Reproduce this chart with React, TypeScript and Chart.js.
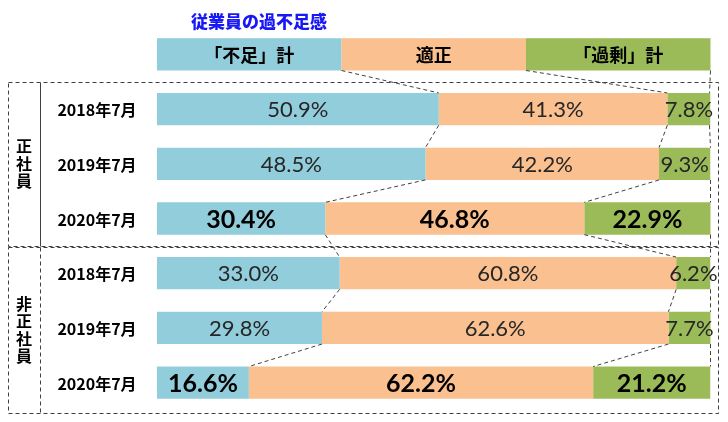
import React, { useEffect, useRef } from "react";
import { Chart, registerables } from "chart.js";

Chart.register(...registerables);

const titleText = "従業員の過不足感";
const legendLabels = ["「不足」計", "適正", "「過剰」計"];
const groupLabels = ["正社員", "非正社員"];
const rowLabels = ["2018年7月", "2019年7月", "2020年7月", "2018年7月", "2019年7月", "2020年7月"];
const shortage = [50.9, 48.5, 30.4, 33.0, 29.8, 16.6];
const adequate = [41.3, 42.2, 46.8, 60.8, 62.6, 62.2];
const surplus = [7.8, 9.3, 22.9, 6.2, 7.7, 21.2];
const boldRows = [false, false, true, false, false, true];
const colors = ["#92CDDC", "#FAC090", "#9BBB59"];

const BAR_PCT = 0.59;
const LINE = "#404040";
const CJK = '"Noto Sans CJK JP", "Noto Sans", sans-serif';
const NUM = 'Lato, "Open Sans", sans-serif';

const overlayPlugin = {
  id: "overlay",
  afterDraw(chart: any) {
    const ctx = chart.ctx as CanvasRenderingContext2D;
    const xs = chart.scales.x;
    const ys = chart.scales.y;
    const step = ys.getPixelForValue(1) - ys.getPixelForValue(0);
    const half = (step * BAR_PCT) / 2;
    const cy = (i: number) => ys.getPixelForValue(i);
    ctx.save();

    // title
    ctx.fillStyle = "#1818F5";
    ctx.font = `900 17px ${CJK}`;
    ctx.textAlign = "center";
    ctx.textBaseline = "middle";
    ctx.fillText(titleText, 259, 22);

    // legend row (row index 0)
    const legendBounds = [0, 100 / 3, 200 / 3, 100];
    for (let k = 0; k < 3; k++) {
      const x0 = xs.getPixelForValue(legendBounds[k]);
      const x1 = xs.getPixelForValue(legendBounds[k + 1]);
      ctx.fillStyle = colors[k];
      ctx.fillRect(x0, cy(0) - half, x1 - x0, half * 2);
      ctx.fillStyle = "#000";
      ctx.font = `bold 18px ${CJK}`;
      ctx.fillText(legendLabels[k], (x0 + x1) / 2, cy(0) + 1);
    }

    // group boxes
    const boxL = 8;
    const boxR = 718;
    const divX = 40.5;
    ctx.strokeStyle = LINE;
    ctx.lineWidth = 1;
    for (let g = 0; g < 2; g++) {
      const top = cy(1 + g * 3) - step / 2 + (g === 1 ? 1 : 0);
      const bot = cy(3 + g * 3) + step / 2 + (g === 1 ? 2.5 : 0);
      ctx.setLineDash([4, 3]);
      ctx.strokeRect(boxL + 0.5, Math.round(top) + 0.5, boxR - boxL, Math.round(bot - top));
      if (g === 1) ctx.setLineDash([4, 3]);
      else ctx.setLineDash([]);
      ctx.beginPath();
      ctx.moveTo(divX, Math.round(top) + 0.5);
      ctx.lineTo(divX, Math.round(bot) + 0.5);
      ctx.stroke();
      // vertical group label
      const chars = Array.from(groupLabels[g]);
      const mid = (top + bot) / 2;
      const lh = 17.5;
      ctx.setLineDash([]);
      ctx.fillStyle = "#000";
      ctx.font = `bold 16px ${CJK}`;
      chars.forEach((ch, j) => {
        ctx.fillText(ch, 24, mid + (j - (chars.length - 1) / 2) * lh);
      });
    }

    // category labels
    ctx.fillStyle = "#000";
    ctx.font = `bold 16px ${CJK}`;
    rowLabels.forEach((lab, i) => {
      ctx.fillText(lab, 97, cy(i + 1) + 1);
    });

    // connectors
    const bounds: number[][] = [[100 / 3, 200 / 3, 100]];
    for (let i = 0; i < rowLabels.length; i++) {
      bounds.push([shortage[i], shortage[i] + adequate[i], Math.min(100, shortage[i] + adequate[i] + surplus[i])]);
    }
    ctx.setLineDash([4, 3]);
    ctx.strokeStyle = LINE;
    for (let i = 0; i < bounds.length - 1; i++) {
      for (let k = 0; k < 3; k++) {
        const xa = xs.getPixelForValue(bounds[i][k]);
        const xb = xs.getPixelForValue(bounds[i + 1][k]);
        ctx.beginPath();
        ctx.moveTo(k === 2 ? Math.round(xa) - 0.5 : xa, cy(i) + half);
        ctx.lineTo(k === 2 ? Math.round(xb) - 0.5 : xb, cy(i + 1) - half);
        ctx.stroke();
      }
    }
    ctx.setLineDash([]);

    // value labels
    const series = [shortage, adequate, surplus];
    rowLabels.forEach((_, i) => {
      let acc = 0;
      series.forEach((s) => {
        const v = s[i];
        const x0 = xs.getPixelForValue(acc);
        const x1 = xs.getPixelForValue(Math.min(100, acc + v));
        acc += v;
        const bold = boldRows[i];
        ctx.fillStyle = bold ? "#000" : "#262626";
        ctx.font = bold ? `bold 25px ${NUM}` : `22px ${NUM}`;
        ctx.fillText(v.toFixed(1) + "%", (x0 + x1) / 2, cy(i + 1) + 1);
      });
    });
    ctx.restore();
  },
};

export default function App() {
  const ref = useRef<HTMLCanvasElement | null>(null);
  useEffect(() => {
    document.body.style.margin = "0";
    const canvas = ref.current;
    if (!canvas) return;
    const chart = new Chart(canvas, {
      type: "bar",
      data: {
        labels: ["", ...rowLabels],
        datasets: [
          { label: legendLabels[0], data: [null, ...shortage], backgroundColor: colors[0] },
          { label: legendLabels[1], data: [null, ...adequate], backgroundColor: colors[1] },
          { label: legendLabels[2], data: [null, ...surplus], backgroundColor: colors[2] },
        ],
      },
      options: {
        indexAxis: "y",
        responsive: false,
        animation: false,
        layout: { padding: { left: 157, right: 17.5, top: 27, bottom: 12 } },
        datasets: { bar: { barPercentage: BAR_PCT, categoryPercentage: 1 } },
        scales: {
          x: { stacked: true, min: 0, max: 100, display: false },
          y: { stacked: true, display: false },
        },
        plugins: {
          legend: { display: false },
          tooltip: { enabled: false },
          title: { display: false },
        },
      },
      plugins: [overlayPlugin],
    } as any);
    return () => chart.destroy();
  }, []);
  return (
    <div style={{ width: 728, height: 422, background: "#fff" }}>
      <canvas ref={ref} width={728} height={422} style={{ display: "block" }} />
    </div>
  );
}
